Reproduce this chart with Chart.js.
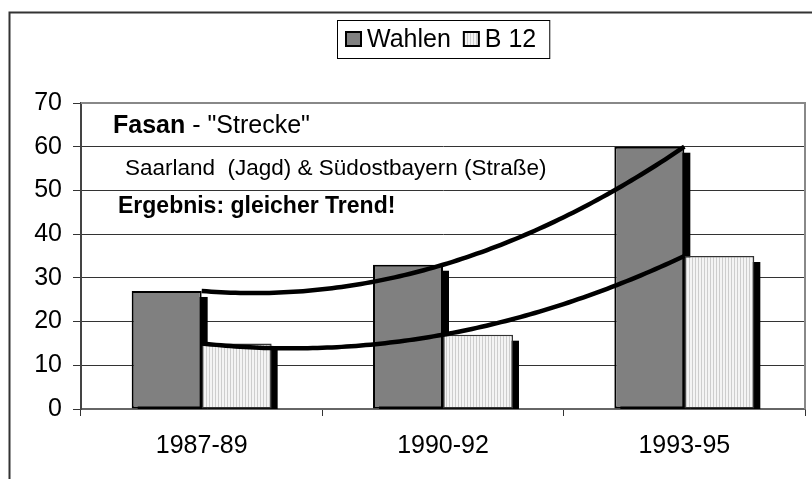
<!DOCTYPE html>
<html><head><meta charset="utf-8">
<script src="https://cdn.jsdelivr.net/npm/chart.js@4.4.1/dist/chart.umd.min.js"></script>
<style>html,body{margin:0;padding:0;background:#fff}#wrap{width:812px;height:479px}</style>
</head><body><div id="wrap"><canvas id="c" width="812" height="479"></canvas></div>
<script>
const categories = ['1987-89', '1990-92', '1993-95'];
const seriesNames = ['Wahlen', 'B 12'];
const wahlenValues = [27, 33, 60];
const b12Values = [15, 17, 35];
const yMin = 0, yMax = 70, yStep = 10;
const noteTitleBold = 'Fasan';
const noteTitleRest = ' - "Strecke"';
const noteLine2 = 'Saarland  (Jagd) & Südostbayern (Straße)';
const noteLine3 = 'Ergebnis: gleicher Trend!';

const FONT = "'Liberation Sans', Arial, Helvetica, sans-serif";

function stripePattern() {
  const c = document.createElement('canvas'); c.width = 3; c.height = 8;
  const g = c.getContext('2d');
  g.fillStyle = '#f4f4f4'; g.fillRect(0, 0, 3, 8);
  g.fillStyle = '#cdcdcd'; g.fillRect(2, 0, 1, 8);
  return g.createPattern(c, 'repeat');
}
const b12Fill = stripePattern();

// least-squares polynomial (order 2) like a spreadsheet trendline
function polyFit2(ys) {
  const n = ys.length; let S = [0,0,0,0,0], T = [0,0,0];
  for (let i = 0; i < n; i++) {
    const x = i;
    for (let k = 0; k < 5; k++) S[k] += Math.pow(x, k);
    for (let k = 0; k < 3; k++) T[k] += ys[i] * Math.pow(x, k);
  }
  const A = [[S[0],S[1],S[2],T[0]],[S[1],S[2],S[3],T[1]],[S[2],S[3],S[4],T[2]]];
  for (let i = 0; i < 3; i++) {
    let p = i; for (let r = i+1; r < 3; r++) if (Math.abs(A[r][i]) > Math.abs(A[p][i])) p = r;
    [A[i], A[p]] = [A[p], A[i]];
    for (let r = 0; r < 3; r++) if (r !== i) {
      const f = A[r][i] / A[i][i];
      for (let c = i; c < 4; c++) A[r][c] -= f * A[i][c];
    }
  }
  return [A[0][3]/A[0][0], A[1][3]/A[1][1], A[2][3]/A[2][2]];
}

const framePlugin = {
  id: 'frame',
  beforeDraw(chart) {
    const ctx = chart.ctx;
    ctx.save();
    ctx.fillStyle = '#fff'; ctx.fillRect(0, 0, chart.width, chart.height);
    ctx.strokeStyle = '#333'; ctx.lineWidth = 2;
    ctx.beginPath();
    ctx.moveTo(9.5, chart.height + 5); ctx.lineTo(9.5, 12.5); ctx.lineTo(chart.width + 5, 12.5);
    ctx.stroke();
    ctx.restore();
  },
  beforeDatasetsDraw(chart) {
    const ctx = chart.ctx, ca = chart.chartArea;
    ctx.save();
    ctx.strokeStyle = '#888'; ctx.lineWidth = 2;
    ctx.beginPath();
    ctx.moveTo(ca.left, ca.top); ctx.lineTo(ca.right, ca.top); ctx.lineTo(ca.right, ca.bottom);
    ctx.stroke();
    ctx.restore();
  }
};

// drop shadows of all bars, drawn before any bar so bars cover them
const shadowPlugin = {
  id: 'barShadow',
  beforeDatasetsDraw(chart) {
    const ctx = chart.ctx, ca = chart.chartArea;
    ctx.save();
    ctx.beginPath(); ctx.rect(ca.left, ca.top, ca.right - ca.left + 10, ca.bottom - ca.top); ctx.clip();
    ctx.fillStyle = '#000';
    chart.data.datasets.forEach((ds, i) => {
      const meta = chart.getDatasetMeta(i);
      meta.data.forEach(el => {
        const p = el.getProps(['x', 'y', 'base', 'width'], true);
        ctx.fillRect(p.x - p.width / 2 + 6, p.y + 6, p.width, p.base - p.y);
      });
    });
    ctx.restore();
  }
};

const trendPlugin = {
  id: 'trend',
  afterDatasetsDraw(chart) {
    const ctx = chart.ctx, xs = chart.scales.x, ys = chart.scales.y;
    ctx.save();
    ctx.strokeStyle = '#000'; ctx.lineWidth = 4.5; ctx.lineJoin = 'round';
    chart.data.datasets.forEach(ds => {
      const c = polyFit2(ds.data);
      const n = ds.data.length - 1;
      ctx.beginPath();
      for (let t = 0; t <= n + 1e-9; t += 0.02) {
        const v = c[0] + c[1] * t + c[2] * t * t;
        const px = xs.getPixelForValue(t), py = ys.getPixelForValue(v);
        if (t === 0) ctx.moveTo(px, py); else ctx.lineTo(px, py);
      }
      ctx.stroke();
    });
    ctx.restore();
  }
};

const notesPlugin = {
  id: 'notes',
  afterDraw(chart) {
    const ctx = chart.ctx, ca = chart.chartArea;
    ctx.save();
    ctx.fillStyle = '#000'; ctx.textBaseline = 'alphabetic'; ctx.textAlign = 'left';
    let x = ca.left + 32;
    ctx.font = 'bold 25px ' + FONT;
    ctx.fillText(noteTitleBold, x, ca.top + 30);
    x += ctx.measureText(noteTitleBold).width;
    ctx.font = '25px ' + FONT;
    ctx.fillText(noteTitleRest, x, ca.top + 30);
    ctx.font = '22.5px ' + FONT;
    ctx.fillText(noteLine2, ca.left + 44, ca.top + 72);
    ctx.font = 'bold 23px ' + FONT;
    ctx.fillText(noteLine3, ca.left + 37, ca.top + 110);
    ctx.restore();
  }
};

const legendPlugin = {
  id: 'boxLegend',
  afterDraw(chart) {
    const ctx = chart.ctx, ca = chart.chartArea;
    ctx.save();
    ctx.font = '25px ' + FONT;
    const sw = 17, sh = 16, gapT = 5, gapI = 12, padL = 8, padR = 13;
    const items = chart.data.datasets.map(d => ({ text: d.label, fill: d.backgroundColor, w: ctx.measureText(d.label).width }));
    let total = padL + padR;
    items.forEach((it, i) => { total += sw + gapT + it.w + (i ? gapI : 0); });
    const cx = (ca.left + ca.right) / 2;
    const left = Math.round(cx - total / 2), top = 20, h = 38, cy = top + h / 2;
    ctx.fillStyle = '#fff'; ctx.fillRect(left, top, total, h);
    ctx.strokeStyle = '#000'; ctx.lineWidth = 1;
    ctx.strokeRect(left + 0.5, top + 0.5, total, h);
    let x = left + padL;
    items.forEach((it, i) => {
      if (i) x += gapI;
      ctx.fillStyle = it.fill; ctx.fillRect(x, cy - sh / 2, sw, sh);
      ctx.strokeStyle = '#000'; ctx.lineWidth = 2; ctx.strokeRect(x + 1, cy - sh / 2 + 1, sw - 2, sh - 2);
      x += sw + gapT;
      ctx.fillStyle = '#000'; ctx.textBaseline = 'middle'; ctx.textAlign = 'left';
      ctx.fillText(it.text, x, cy + 1);
      x += it.w;
    });
    ctx.restore();
  }
};

new Chart(document.getElementById('c'), {
  type: 'bar',
  data: {
    labels: categories,
    datasets: [
      { label: seriesNames[0], data: wahlenValues, backgroundColor: '#808080', borderColor: '#000', borderWidth: 2, borderSkipped: false },
      { label: seriesNames[1], data: b12Values, backgroundColor: b12Fill, borderColor: '#333', borderWidth: 1.5, borderSkipped: false }
    ]
  },
  options: {
    responsive: false,
    animation: false,
    devicePixelRatio: 1,
    categoryPercentage: 0.58,
    barPercentage: 1,
    layout: { padding: { top: 103, right: 7, bottom: 0, left: 0 } },
    plugins: { legend: { display: false }, tooltip: { enabled: false } },
    scales: {
      x: {
        offset: true,
        grid: { display: true, drawOnChartArea: false, drawTicks: true, tickLength: 7, color: '#333', lineWidth: 1, offset: true },
        border: { display: true, color: '#666', width: 2 },
        ticks: { color: '#000', font: { family: FONT, size: 25 }, padding: 15, maxRotation: 0, autoSkip: false },
        afterFit(s) { s.height = 70; }
      },
      y: {
        min: yMin, max: yMax,
        ticks: { stepSize: yStep, color: '#000', font: { family: FONT, size: 25 }, padding: 11 },
        grid: { color: '#333', lineWidth: 1, tickLength: 8, drawTicks: true },
        border: { color: '#444', width: 2 },
        afterFit(s) { s.width = 81; }
      }
    }
  },
  plugins: [framePlugin, shadowPlugin, trendPlugin, notesPlugin, legendPlugin]
});
</script>
</body></html>
